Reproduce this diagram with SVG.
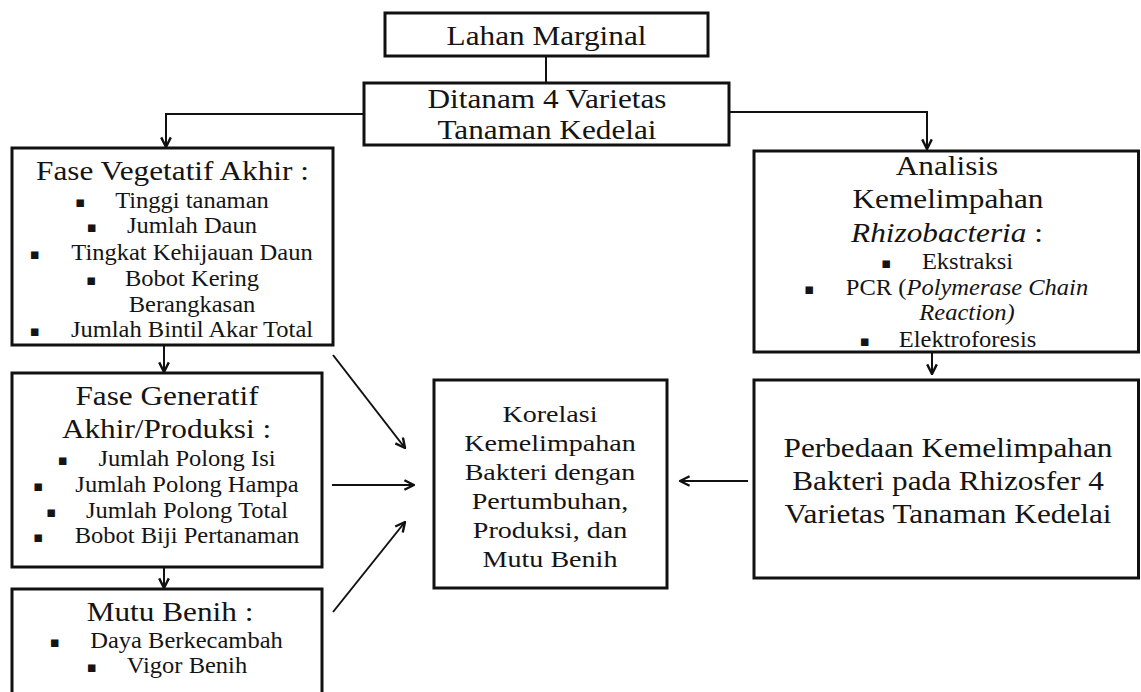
<svg xmlns="http://www.w3.org/2000/svg" width="1141" height="692" viewBox="0 0 1141 692">
<style>
.box{fill:#fff;stroke:#111;stroke-width:3}
.c{fill:none;stroke:#111;stroke-width:2}
text{font-family:"Liberation Serif","Times New Roman",serif;fill:#141414;text-anchor:middle}
.h{font-size:26.5px}
.i{font-size:22.5px}
.k{font-size:24px}
.b{font-family:"DejaVu Sans",sans-serif;font-size:15px}
.it{font-style:italic}
</style>
<defs>
<marker id="ah" viewBox="0 0 10 10" refX="9" refY="5" markerWidth="12" markerHeight="12" markerUnits="userSpaceOnUse" orient="auto">
<path d="M1,1 L9,5 L1,9" fill="none" stroke="#111" stroke-width="2"/>
</marker>
</defs>
<rect width="1141" height="692" fill="#fff"/>
<g id="connectors">
<path class="c" d="M546,56 V83"/>
<path class="c" d="M364,114 H166 V147" marker-end="url(#ah)"/>
<path class="c" d="M729,112 H927 V149" marker-end="url(#ah)"/>
<path class="c" d="M164,346 V372" marker-end="url(#ah)"/>
<path class="c" d="M164,568 V588" marker-end="url(#ah)"/>
<path class="c" d="M333,355 L405,448" marker-end="url(#ah)"/>
<path class="c" d="M332,485 H414" marker-end="url(#ah)"/>
<path class="c" d="M333,612 L405,522" marker-end="url(#ah)"/>
<path class="c" d="M932,353 V374" marker-end="url(#ah)"/>
<path class="c" d="M748,481 H680" marker-end="url(#ah)"/>
</g>
<g id="lahan">
<rect class="box" x="385" y="13" width="323" height="43"/>
<text class="h" transform="matrix(1.18 0 0 1 546.5 45)">Lahan Marginal</text>
</g>
<g id="ditanam">
<rect class="box" x="364" y="83" width="365" height="62"/>
<text class="h" transform="matrix(1.18 0 0 1 547 108)">Ditanam 4 Varietas</text>
<text class="h" transform="matrix(1.18 0 0 1 547 139)">Tanaman Kedelai</text>
</g>
<g id="vegetatif">
<rect class="box" x="12" y="148" width="321" height="197"/>
<text class="h" transform="matrix(1.18 0 0 1 172.5 180)">Fase Vegetatif Akhir :</text>
<text class="b" x="80" y="207">▪</text>
<text class="i" transform="matrix(1.09 0 0 1 192 208)">Tinggi tanaman</text>
<text class="b" x="91.5" y="232">▪</text>
<text class="i" transform="matrix(1.09 0 0 1 192 233)">Jumlah Daun</text>
<text class="b" x="34.5" y="259">▪</text>
<text class="i" transform="matrix(1.09 0 0 1 192 260)">Tingkat Kehijauan Daun</text>
<text class="b" x="91" y="285">▪</text>
<text class="i" transform="matrix(1.09 0 0 1 192 286)">Bobot Kering</text>
<text class="i" transform="matrix(1.09 0 0 1 192 312)">Berangkasan</text>
<text class="b" x="34.5" y="336">▪</text>
<text class="i" transform="matrix(1.09 0 0 1 192 337)">Jumlah Bintil Akar Total</text>
</g>
<g id="generatif">
<rect class="box" x="12" y="373" width="310" height="194"/>
<text class="h" transform="matrix(1.18 0 0 1 167 405)">Fase Generatif</text>
<text class="h" transform="matrix(1.18 0 0 1 166.5 438)">Akhir/Produksi :</text>
<text class="b" x="62.5" y="465">▪</text>
<text class="i" transform="matrix(1.09 0 0 1 187 466)">Jumlah Polong Isi</text>
<text class="b" x="38" y="491">▪</text>
<text class="i" transform="matrix(1.09 0 0 1 187 492)">Jumlah Polong Hampa</text>
<text class="b" x="51" y="517">▪</text>
<text class="i" transform="matrix(1.09 0 0 1 187 518)">Jumlah Polong Total</text>
<text class="b" x="38" y="542">▪</text>
<text class="i" transform="matrix(1.09 0 0 1 187 543)">Bobot Biji Pertanaman</text>
</g>
<g id="mutu">
<rect class="box" x="12" y="589" width="310" height="130"/>
<text class="h" transform="matrix(1.18 0 0 1 170 621)">Mutu Benih :</text>
<text class="b" x="54.5" y="647">▪</text>
<text class="i" transform="matrix(1.09 0 0 1 186.5 648)">Daya Berkecambah</text>
<text class="b" x="91.5" y="672">▪</text>
<text class="i" transform="matrix(1.09 0 0 1 187 673)">Vigor Benih</text>
</g>
<g id="korelasi">
<rect class="box" x="434" y="380" width="233" height="208"/>
<text class="k" transform="matrix(1.17 0 0 1 550 422)">Korelasi</text>
<text class="k" transform="matrix(1.17 0 0 1 550 451)">Kemelimpahan</text>
<text class="k" transform="matrix(1.17 0 0 1 550 480)">Bakteri dengan</text>
<text class="k" transform="matrix(1.17 0 0 1 550 509)">Pertumbuhan,</text>
<text class="k" transform="matrix(1.17 0 0 1 550 538)">Produksi, dan</text>
<text class="k" transform="matrix(1.17 0 0 1 550 567)">Mutu Benih</text>
</g>
<g id="analisis">
<rect class="box" x="754" y="151" width="384.5" height="201"/>
<text class="h" transform="matrix(1.18 0 0 1 947 175)">Analisis</text>
<text class="h" transform="matrix(1.18 0 0 1 948 208)">Kemelimpahan</text>
<text class="h" transform="matrix(1.18 0 0 1 947 242)"><tspan class="it">Rhizobacteria</tspan> :</text>
<text class="b" x="886" y="268">▪</text>
<text class="i" transform="matrix(1.09 0 0 1 967.5 269)">Ekstraksi</text>
<text class="b" x="809" y="294">▪</text>
<text class="i" transform="matrix(1.09 0 0 1 967 295)">PCR (<tspan class="it">Polymerase Chain</tspan></text>
<text class="i it" transform="matrix(1.09 0 0 1 967 320)">Reaction)</text>
<text class="b" x="864.5" y="346">▪</text>
<text class="i" transform="matrix(1.09 0 0 1 967.5 347)">Elektroforesis</text>
</g>
<g id="perbedaan">
<rect class="box" x="754" y="380" width="384.5" height="198"/>
<text class="h" transform="matrix(1.18 0 0 1 948 457)">Perbedaan Kemelimpahan</text>
<text class="h" transform="matrix(1.18 0 0 1 948 490)">Bakteri pada Rhizosfer 4</text>
<text class="h" transform="matrix(1.18 0 0 1 948 523)">Varietas Tanaman Kedelai</text>
</g>
</svg>
